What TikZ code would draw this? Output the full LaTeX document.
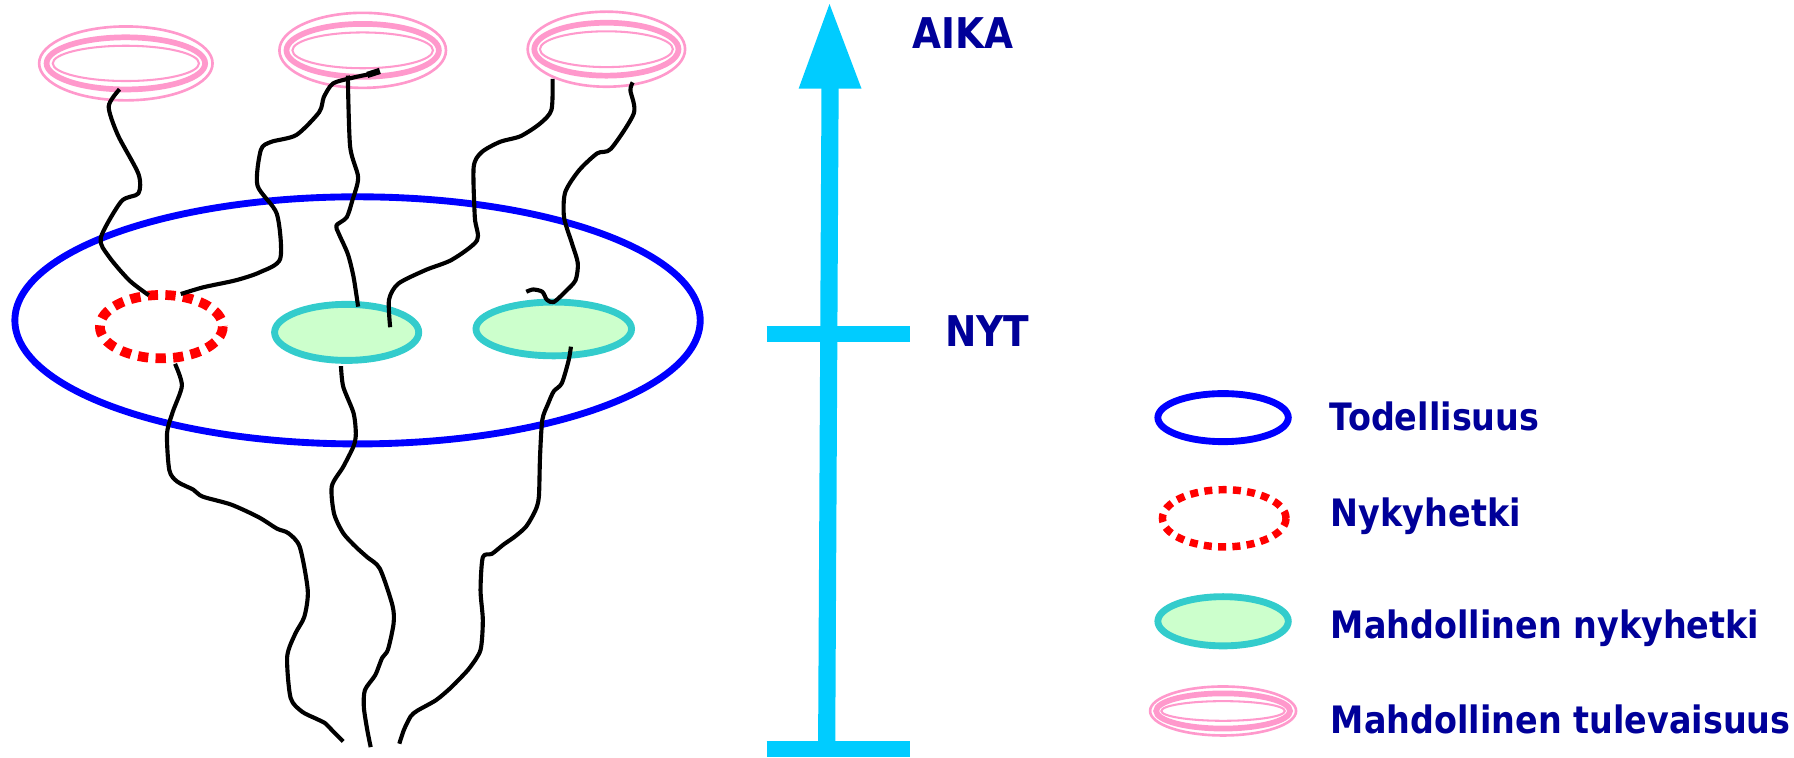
\documentclass[tikz,border=0pt]{standalone}
\usepackage{fontspec}
\newfontfamily\lblfont{DejaVu Sans}[FakeStretch=0.885]
\definecolor{realblue}{HTML}{0000FF}
\definecolor{nowred}{HTML}{FF0000}
\definecolor{teal2}{HTML}{33CCCC}
\definecolor{mint}{HTML}{CCFFCC}
\definecolor{pinkc}{HTML}{FF99CC}
\definecolor{axisc}{HTML}{00CCFF}
\definecolor{navy2}{HTML}{000099}
% center x, center y, outer rx, outer ry, middle ry ratio, inner ry ratio
\newcommand\pinkring[6]{%
  \draw[pinkc, line width=2.3pt] (#1,#2) ellipse [x radius={#3-1.2}, y radius={#4-1.2}];
  \draw[pinkc, line width=5pt] (#1,#2) ellipse [x radius={0.9*#3}, y radius={#5*#4}];
  \draw[pinkc, line width=1.8pt] (#1,#2) ellipse [x radius={0.83*#3}, y radius={#6*#4}];}
\tikzset{
  realline/.style={draw=realblue, line width=6pt},
  nowline/.style={draw=nowred, line width=8.5pt, dash pattern=on 9pt off 6.4pt},
  possline/.style={draw=teal2, fill=mint, line width=6pt},
  path/.style={black, line width=3.6pt, line join=round},
  lbl/.style={text=navy2, font=\lblfont\bfseries\fontsize{33}{40}\selectfont, anchor=base west, inner sep=0pt},
  biglbl/.style={text=navy2, font=\lblfont\bfseries\fontsize{37}{44}\selectfont, anchor=base west, inner sep=0pt}
}
\begin{document}
\begin{tikzpicture}[x=1pt,y=-1pt]
\useasboundingbox (0,0) rectangle (1568,662);
% big ellipse (reality)
\draw[realline] (312.5,280) ellipse [x radius=299.5, y radius=108];
% present
\draw[nowline] (141,285.5) ellipse [x radius=53.7, y radius=27.7];
% possible presents
\draw[possline] (303,290.5) ellipse [x radius=63, y radius=24.5];
\draw[possline] (484,287.5) ellipse [x radius=68, y radius=23.5];
% possible futures
\pinkring{110}{55.4}{77}{33.5}{0.68}{0.46}
\pinkring{317}{44}{74}{34}{0.68}{0.46}
\pinkring{530}{43}{70}{34}{0.68}{0.46}
% world lines
\draw[path] plot[smooth, tension=0.45] coordinates {(104.5,78) (95,93) (103,118) (121,152) (121,169) (106,176) (88,208) (95,224) (113,245) (130,258)};
\draw[path] plot[smooth, tension=0.45] coordinates {(158,257) (178,251) (206,245) (227,238) (245,226) (242,187) (225,162) (228,131) (237,124) (259,118) (279,98) (283,85) (291,73) (308,68) (322,65)};
\draw[black, line width=5.5pt] (321,65.5) -- (332,62);
\draw[path] plot[smooth, tension=0.45] coordinates {(304,66) (306,128) (313,155) (308,175) (303,190) (294,197) (296,204) (304,222) (309,242) (313,268)};
\draw[path] plot[smooth, tension=0.45] coordinates {(341,286) (340,262) (348,248) (372,236) (395,227) (417,210) (415,190) (414,146) (421,133) (437,124) (455,119) (472,108) (482,96) (483,69)};
\draw[path] plot[smooth, tension=0.45] coordinates {(553,72) (551,79) (554,99) (534,130) (522,134) (506,149) (494,168) (493,190) (500,213) (505,230) (503,245) (494,255) (484,264) (478,262) (474,255) (466,253) (460,255)};
\draw[path] plot[smooth, tension=0.45] coordinates {(153,318) (159,337) (151,360) (146,379) (148,411) (155,421) (169,428) (177,434) (202,441) (226,452) (242,462) (252,466) (262,478) (269,516) (266,539) (258,554) (251,574) (254,610) (264,622) (276,628) (284,632) (290,638) (300,648)};
\draw[path] plot[smooth, tension=0.45] coordinates {(298,320) (300,338) (309,361) (311,379) (309,390) (300,408) (290,425) (292,449) (300,466) (311,478) (321,487) (332,497) (343,529) (344,545) (339,568) (334,575) (328,590) (319,603) (318,618) (321,638) (324,653)};
\draw[path] plot[smooth, tension=0.45] coordinates {(499,303) (497,315) (491,335) (484,342) (479,353) (474,367) (472,399) (471,434) (468,446) (460,460) (450,469) (440,476) (430,484) (422,487) (420,516) (422,542) (420,568) (411,583) (403,592) (393,602) (381,612) (365,621) (359,626) (353,638) (349,650)};
% time axis
\coordinate (axbot) at (722.5,655);
\coordinate (axtop) at (725.5,77);
\draw[axisc, line width=15pt] (axbot) -- (axtop);
\fill[axisc] (698,77.5) -- (753,77.5) -- (725,3.5) -- cycle;
\draw[axisc, line width=14pt] (670,292) -- (795,292);
\draw[axisc, line width=14pt] (670,655) -- (795,655);
\node[biglbl] (aika) at (797,42) {AIKA};
\node[biglbl] (nyt) at (826,303) {NYT};
% legend
\draw[realline] (1069,365) ellipse [x radius=57, y radius=21];
\node[lbl] (l1) at (1162,376) {Todellisuus};
\draw[nowline, line width=6.5pt, dash pattern=on 7pt off 5.5pt] (1070,453) ellipse [x radius=54, y radius=25];
\node[lbl] (l2) at (1163,460) {Nykyhetki};
\draw[possline] (1069,543) ellipse [x radius=57, y radius=21.5];
\node[lbl] (l3) at (1163,558) {Mahdollinen nykyhetki};
\pinkring{1069}{621.4}{65}{22.6}{0.68}{0.38}
\node[lbl] (l4) at (1163,641) {Mahdollinen tulevaisuus};
\end{tikzpicture}
\end{document}
